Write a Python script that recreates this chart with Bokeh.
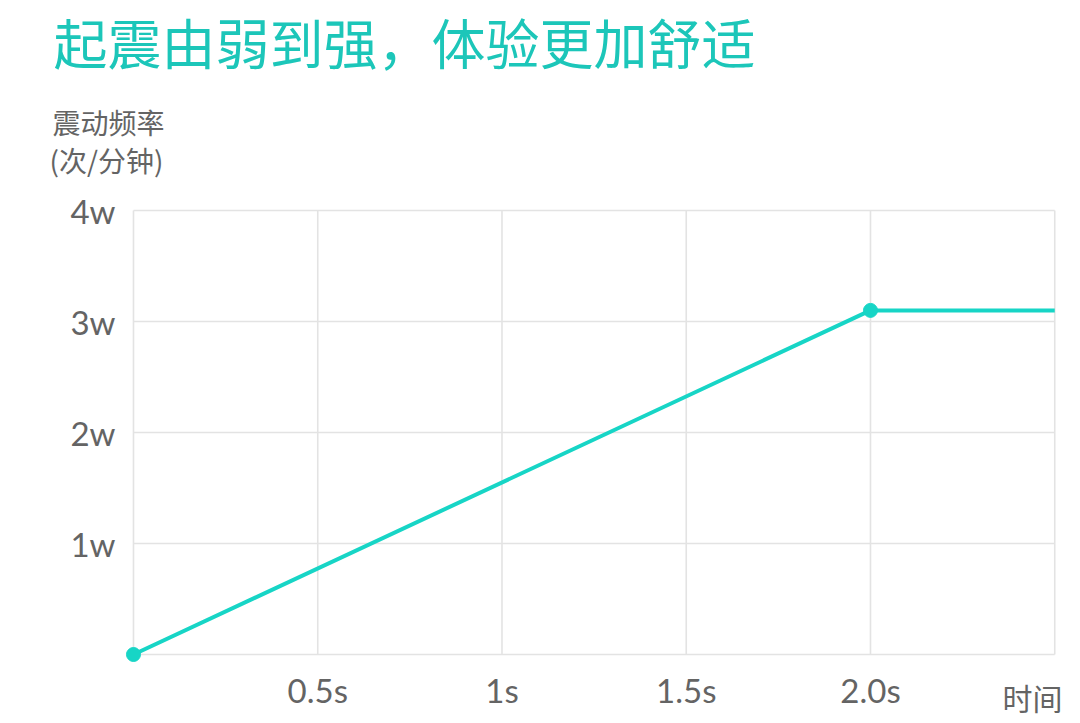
from bokeh.plotting import figure
from bokeh.models import Range1d, Label, FixedTicker
from bokeh.embed import file_html
from bokeh.resources import INLINE

# ---- data ----
time_s = [0.0, 2.0, 2.5]
freq_w = [0.0, 3.1, 3.1]
marker_time = [0.0, 2.0]
marker_freq = [0.0, 3.1]

x_ticks = [0.0, 0.5, 1.0, 1.5, 2.0, 2.5]
x_tick_labels = ["", "0.5s", "1s", "1.5s", "2.0s", ""]
y_ticks = [0, 1, 2, 3, 4]
y_tick_labels = ["", "1w", "2w", "3w", "4w"]

title_text = "起震由弱到强，体验更加舒适"
y_label_1 = "震动频率"
y_label_2 = "(次/分钟)"
x_label = "时间"

TEAL_LINE = "#17d5c6"
TEAL_TITLE = "#1cc6b9"
GRID = "#e3e3e3"
TXT = "#646464"
CJK = "Noto Sans CJK SC"

# the frame covers the whole canvas; axes are pinned at x=0 / y=0
p = figure(width=1080, height=720, output_backend="svg", toolbar_location=None,
           x_range=Range1d(-0.3609, 2.5699), y_range=Range1d(-0.5946, 5.892),
           min_border=0)
p.outline_line_color = None
p.grid.visible = False
p.background_fill_color = "white"
p.border_fill_color = "white"

# grid drawn as segments between tick positions
p.segment(x0=[x_ticks[0]] * len(y_ticks), x1=[x_ticks[-1]] * len(y_ticks),
          y0=y_ticks, y1=y_ticks, line_color=GRID, line_width=1.6)
p.segment(x0=x_ticks, x1=x_ticks, y0=[y_ticks[0]] * len(x_ticks),
          y1=[y_ticks[-1]] * len(x_ticks), line_color=GRID, line_width=1.6)

p.line(time_s, freq_w, line_color=TEAL_LINE, line_width=4)
p.scatter(marker_time, marker_freq, size=14, fill_color=TEAL_LINE, line_color=TEAL_LINE)

for ax in (p.xaxis[0], p.yaxis[0]):
    ax.fixed_location = 0
    ax.axis_line_color = None
    ax.major_tick_line_color = None
    ax.minor_tick_line_color = None
    ax.major_tick_out = 0
    ax.major_tick_in = 0
    ax.major_label_text_font = "Lato"
    ax.major_label_text_font_size = "33px"
    ax.major_label_text_color = TXT

p.xaxis[0].ticker = FixedTicker(ticks=x_ticks)
p.xaxis[0].major_label_overrides = {t: l for t, l in zip(x_ticks, x_tick_labels)}
p.xaxis[0].major_label_standoff = 15
p.yaxis[0].ticker = FixedTicker(ticks=y_ticks)
p.yaxis[0].major_label_overrides = {t: l for t, l in zip(y_ticks, y_tick_labels)}
p.yaxis[0].major_label_standoff = 18

p.add_layout(Label(x=-0.217, y=5.88, text=title_text, text_font=CJK,
                   text_font_size="54px", text_color=TEAL_TITLE,
                   text_line_height=1.0,
                   text_baseline="top", text_align="left"))
p.add_layout(Label(x=-0.2198, y=4.797, text=y_label_1, text_font=CJK,
                   text_font_size="28px", text_color=TXT,
                   text_baseline="middle", text_align="left"))
p.add_layout(Label(x=-0.228, y=4.455, text=y_label_2, text_font=CJK,
                   text_font_size="28px", text_color=TXT,
                   text_baseline="middle", text_align="left"))
p.add_layout(Label(x=2.521, y=-0.387, text=x_label, text_font=CJK,
                   text_font_size="30px", text_color=TXT,
                   text_baseline="middle", text_align="right"))

open("out.html", "w").write(file_html(p, INLINE))
